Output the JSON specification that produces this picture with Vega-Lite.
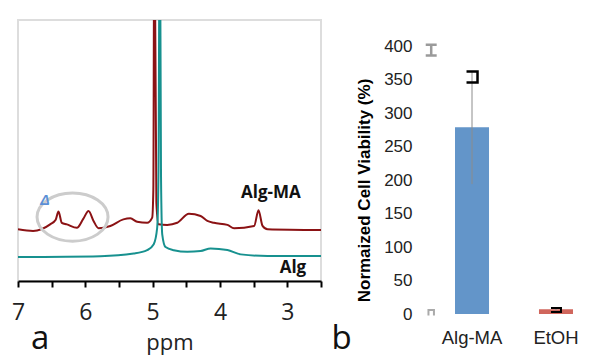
{
  "$schema": "https://vega.github.io/schema/vega-lite/v6.json",
  "background": "white",
  "padding": {"left": 10, "top": 19, "right": 0, "bottom": 5},
  "config": {"view": {"stroke": null}, "font": "Liberation Sans"},
  "bounds": "flush",
  "spacing": 100,
  "hconcat": [
    {
      "width": 303,
      "height": 261,
      "view": {"stroke": "#dddddd", "strokeWidth": 2},
      "layer": [
        {
          "data": {"values": [
            {"s": "Alg-MA", "ppm": 7.0, "v": 19.8},
            {"s": "Alg-MA", "ppm": 6.776, "v": 19.2},
            {"s": "Alg-MA", "ppm": 6.523, "v": 21.7},
            {"s": "Alg-MA", "ppm": 6.44, "v": 23.5},
            {"s": "Alg-MA", "ppm": 6.399, "v": 26.6},
            {"s": "Alg-MA", "ppm": 6.349, "v": 22.3},
            {"s": "Alg-MA", "ppm": 6.274, "v": 21.7},
            {"s": "Alg-MA", "ppm": 6.125, "v": 20.4},
            {"s": "Alg-MA", "ppm": 6.031, "v": 23.8},
            {"s": "Alg-MA", "ppm": 5.952, "v": 26.8},
            {"s": "Alg-MA", "ppm": 5.878, "v": 23.0},
            {"s": "Alg-MA", "ppm": 5.803, "v": 20.2},
            {"s": "Alg-MA", "ppm": 5.629, "v": 21.1},
            {"s": "Alg-MA", "ppm": 5.435, "v": 23.6},
            {"s": "Alg-MA", "ppm": 5.331, "v": 24.0},
            {"s": "Alg-MA", "ppm": 5.231, "v": 22.7},
            {"s": "Alg-MA", "ppm": 5.082, "v": 22.3},
            {"s": "Alg-MA", "ppm": 5.007, "v": 24.3},
            {"s": "Alg-MA", "ppm": 4.99, "v": 35},
            {"s": "Alg-MA", "ppm": 4.975, "v": 150},
            {"s": "Alg-MA", "ppm": 4.945, "v": 30},
            {"s": "Alg-MA", "ppm": 4.914, "v": 21.7},
            {"s": "Alg-MA", "ppm": 4.784, "v": 21.5},
            {"s": "Alg-MA", "ppm": 4.635, "v": 22.3},
            {"s": "Alg-MA", "ppm": 4.462, "v": 25.8},
            {"s": "Alg-MA", "ppm": 4.288, "v": 24.9},
            {"s": "Alg-MA", "ppm": 4.188, "v": 23.0},
            {"s": "Alg-MA", "ppm": 4.089, "v": 22.3},
            {"s": "Alg-MA", "ppm": 3.89, "v": 21.5},
            {"s": "Alg-MA", "ppm": 3.791, "v": 20.2},
            {"s": "Alg-MA", "ppm": 3.493, "v": 21.1},
            {"s": "Alg-MA", "ppm": 3.428, "v": 27.1},
            {"s": "Alg-MA", "ppm": 3.368, "v": 21.1},
            {"s": "Alg-MA", "ppm": 3.294, "v": 19.8},
            {"s": "Alg-MA", "ppm": 2.5, "v": 19.5},
            {"s": "Alg", "ppm": 7.0, "v": 9.2},
            {"s": "Alg", "ppm": 5.778, "v": 9.5},
            {"s": "Alg", "ppm": 5.282, "v": 10.5},
            {"s": "Alg", "ppm": 5.082, "v": 11.8},
            {"s": "Alg", "ppm": 4.984, "v": 14.1},
            {"s": "Alg", "ppm": 4.933, "v": 20.4},
            {"s": "Alg", "ppm": 4.914, "v": 40},
            {"s": "Alg", "ppm": 4.894, "v": 150},
            {"s": "Alg", "ppm": 4.876, "v": 40},
            {"s": "Alg", "ppm": 4.858, "v": 17.9},
            {"s": "Alg", "ppm": 4.809, "v": 13.0},
            {"s": "Alg", "ppm": 4.686, "v": 11.8},
            {"s": "Alg", "ppm": 4.486, "v": 11.2},
            {"s": "Alg", "ppm": 4.288, "v": 11.5},
            {"s": "Alg", "ppm": 4.139, "v": 12.5},
            {"s": "Alg", "ppm": 3.89, "v": 11.9},
            {"s": "Alg", "ppm": 3.692, "v": 10.2},
            {"s": "Alg", "ppm": 3.294, "v": 9.6},
            {"s": "Alg", "ppm": 2.5, "v": 9.6}
          ]},
          "mark": {"type": "line", "clip": true, "strokeWidth": 2, "interpolate": "monotone"},
          "encoding": {
            "x": {"field": "ppm", "type": "quantitative",
              "scale": {"domain": [2.5, 7], "reverse": true, "nice": false, "zero": false},
              "axis": {"values": [7, 6.5, 6, 5.5, 5, 4.5, 4, 3.5, 3, 2.5], "tickCount": 30,
                "labelExpr": "datum.value % 1 === 0 ? format(datum.value, 'd') : ''",
                "labelOverlap": false, "labelFlush": false, "labelBound": false,
                "title": "ppm", "titleFont": "Open Sans", "titleFontSize": 22, "titleFontWeight": "normal", "titleColor": "#222", "titlePadding": 8,
                "labelFont": "Open Sans", "labelFontSize": 23, "labelColor": "#222", "labelPadding": 14,
                "domainColor": "#000", "domainWidth": 2, "tickColor": "#000", "tickWidth": 2, "tickSize": 6, "grid": false}},
            "y": {"field": "v", "type": "quantitative", "scale": {"domain": [0, 100], "nice": false}, "axis": null},
            "color": {"field": "s", "type": "nominal", "scale": {"domain": ["Alg-MA", "Alg"], "range": ["#8b1214", "#17918f"]}, "legend": null},
            "order": {"field": "ppm", "type": "quantitative", "sort": "descending"}
          }
        },
        {
          "data": {"values": [{"ppm": 6.19, "v": 24.5}]},
          "mark": {"type": "point", "shape": "M-1,0A1,0.68,0,1,1,1,0A1,0.68,0,1,1,-1,0Z", "size": 5041, "filled": false, "stroke": "#cccccc", "strokeWidth": 3, "opacity": 1},
          "encoding": {"x": {"field": "ppm", "type": "quantitative"}, "y": {"field": "v", "type": "quantitative"}}
        },
        {
          "data": {"values": [{"t": "Alg-MA", "ppm": 3.244, "v": 33.7}, {"t": "Alg", "ppm": 2.917, "v": 5.0}]},
          "mark": {"type": "text", "font": "Open Sans", "fontWeight": "bold", "fontSize": 17, "color": "#111"},
          "encoding": {"x": {"field": "ppm", "type": "quantitative"}, "y": {"field": "v", "type": "quantitative"}, "text": {"field": "t"}}
        },
        {
          "data": {"values": [{"t": "Δ", "ppm": 6.6, "v": 30.5}]},
          "mark": {"type": "text", "fontStyle": "italic", "fontWeight": "bold", "fontSize": 14, "color": "#5b8fd6"},
          "encoding": {"x": {"field": "ppm", "type": "quantitative"}, "y": {"field": "v", "type": "quantitative"}, "text": {"field": "t"}}
        },
        {
          "data": {"values": [{"t": "a", "ppm": 6.67, "v": -26.0}, {"t": "b", "ppm": 2.194, "v": -26.0}]},
          "mark": {"type": "text", "font": "Open Sans", "fontSize": 33, "baseline": "alphabetic", "color": "#111", "clip": false},
          "encoding": {"x": {"field": "ppm", "type": "quantitative"}, "y": {"field": "v", "type": "quantitative"}, "text": {"field": "t"}}
        }
      ],
      "resolve": {"scale": {"color": "independent"}}
    },
    {
      "width": 186,
      "height": 294,
      "data": {"values": [
        {"c": "Alg-MA", "val": 279, "lo": 194, "hi": 363, "bk": 354, "gi": 394, "g0": 2},
        {"c": "EtOH", "val": 7, "lo": 5, "hi": 9, "bk": 6}
      ]},
      "encoding": {
        "x": {"field": "c", "type": "nominal", "sort": null,
          "scale": {"paddingInner": 0.595, "paddingOuter": 0.405},
          "axis": {"title": null, "labelAngle": 0, "labelFontSize": 18.5, "labelColor": "#222", "labelPadding": 14, "domain": false, "ticks": false}}
      },
      "layer": [
        {
          "mark": {"type": "bar"},
          "encoding": {
            "y": {"field": "val", "type": "quantitative", "scale": {"domain": [0, 439], "nice": false},
              "axis": {"values": [0, 50, 100, 150, 200, 250, 300, 350, 400], "tickCount": 30, "labelOverlap": false, "title": "Normaized Cell Viability (%)",
                "titleFontWeight": "bold", "titleFontSize": 17, "titleColor": "#000", "titleY": 170, "titlePadding": 10,
                "labelFontSize": 17, "labelColor": "#222", "labelPadding": 4, "offset": 5,
                "domain": false, "ticks": false, "tickSize": 0, "grid": false}},
            "color": {"field": "c", "type": "nominal", "scale": {"range": ["#6395c9", "#d0665c"]}, "legend": null}
          }
        },
        {
          "mark": {"type": "rule", "color": "#8c8c8c", "strokeWidth": 1},
          "encoding": {"y": {"field": "lo", "type": "quantitative"}, "y2": {"field": "hi"}}
        },
        {
          "transform": [{"filter": "datum.c === 'Alg-MA'"}],
          "mark": {"type": "point", "shape": "M-1,-1L1,-1L1,1L-1,1", "size": 121, "filled": false, "stroke": "#000", "strokeWidth": 2.5, "opacity": 1},
          "encoding": {"y": {"field": "bk", "type": "quantitative"}}
        },
        {
          "transform": [{"filter": "datum.c === 'EtOH'"}],
          "mark": {"type": "point", "shape": "M-1,-0.4L1,-0.4L1,0.4L-1,0.4", "size": 100, "filled": false, "stroke": "#000", "strokeWidth": 2, "opacity": 1},
          "encoding": {"y": {"field": "bk", "type": "quantitative"}}
        },
        {
          "transform": [{"filter": "datum.c === 'Alg-MA'"}],
          "mark": {"type": "point", "shape": "M-1,-1L1,-1M0,-1L0,1M-1,1L1,1", "size": 120, "filled": false, "stroke": "#9a9a9a", "strokeWidth": 2.5, "opacity": 1},
          "encoding": {"x": {"field": "c", "type": "nominal", "bandPosition": -0.7}, "y": {"field": "gi", "type": "quantitative"}}
        },
        {
          "transform": [{"filter": "datum.c === 'Alg-MA'"}],
          "mark": {"type": "point", "shape": "M-1,1L-1,-1L1,-1L1,1", "size": 30, "filled": false, "stroke": "#aaaaaa", "strokeWidth": 2, "opacity": 1},
          "encoding": {"x": {"field": "c", "type": "nominal", "bandPosition": -0.7}, "y": {"field": "g0", "type": "quantitative"}}
        }
      ]
    }
  ]
}
